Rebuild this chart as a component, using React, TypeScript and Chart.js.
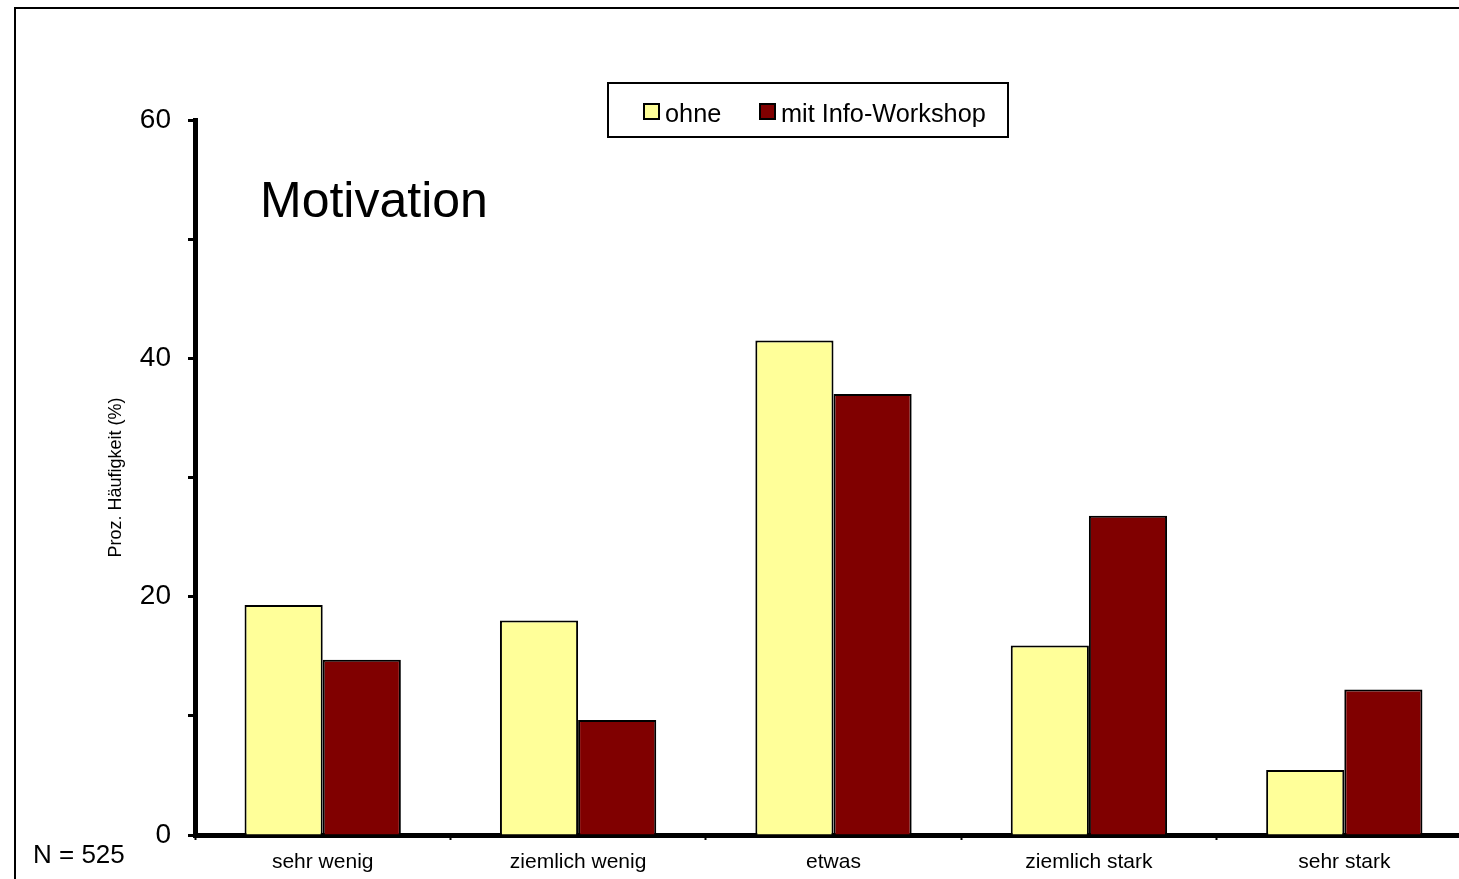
import React, { useEffect, useRef } from "react";
import { Chart, registerables } from "chart.js";

Chart.register(...registerables);

const categories = ["sehr wenig", "ziemlich wenig", "etwas", "ziemlich stark", "sehr stark"];
const ohneValues = [19.3, 18.0, 41.5, 15.9, 5.45];
const mitValues = [14.7, 9.65, 37.0, 26.8, 12.2];
const seriesNames = ["ohne", "mit Info-Workshop"];
const seriesColors = ["#FFFF99", "#800000"];
const chartTitle = "Motivation";
const yAxisTitle = "Proz. Häufigkeit (%)";
const sampleNote = "N = 525";

const FONT = "'Liberation Sans', Arial, Helvetica, sans-serif";

const decorPlugin = {
  id: "decor",
  afterDraw(chart: any) {
    const ctx = chart.ctx;
    ctx.save();
    // outer frame
    ctx.strokeStyle = "#000";
    ctx.lineWidth = 2;
    ctx.beginPath();
    ctx.moveTo(15, 2000);
    ctx.lineTo(15, 8);
    ctx.lineTo(3000, 8);
    ctx.stroke();

    // title
    ctx.fillStyle = "#000";
    ctx.font = `50px ${FONT}`;
    ctx.textAlign = "left";
    ctx.textBaseline = "alphabetic";
    ctx.fillText(chartTitle, 260, 217);

    // N note
    ctx.font = `26px ${FONT}`;
    ctx.fillText(sampleNote, 33, 863);

    // legend
    ctx.lineWidth = 2;
    ctx.strokeRect(608, 83, 400, 54);
    const swatchX = [644, 760];
    const textX = [665, 781];
    ctx.font = `25.3px ${FONT}`;
    for (let i = 0; i < seriesNames.length; i++) {
      ctx.fillStyle = seriesColors[i];
      ctx.fillRect(swatchX[i], 104, 15, 15);
      ctx.strokeStyle = "#000";
      ctx.lineWidth = 2;
      ctx.strokeRect(swatchX[i], 104, 15, 15);
      ctx.fillStyle = "#000";
      ctx.fillText(seriesNames[i], textX[i], 122);
    }
    ctx.restore();
  },
};

export default function App() {
  const canvasRef = useRef<HTMLCanvasElement | null>(null);

  useEffect(() => {
    if (!canvasRef.current) return;
    const chart = new Chart(canvasRef.current, {
      type: "bar",
      data: {
        labels: categories,
        datasets: [
          {
            label: seriesNames[0],
            data: ohneValues,
            backgroundColor: seriesColors[0],
            borderColor: "#000",
            borderWidth: 2,
            categoryPercentage: 0.612,
            barPercentage: 1.0,
          },
          {
            label: seriesNames[1],
            data: mitValues,
            backgroundColor: seriesColors[1],
            borderColor: "#000",
            borderWidth: 2,
            categoryPercentage: 0.612,
            barPercentage: 1.0,
          },
        ],
      },
      options: {
        responsive: false,
        animation: false,
        layout: { padding: { left: 0, right: 8, top: 120, bottom: 0 } },
        plugins: {
          legend: { display: false },
          tooltip: { enabled: false },
        },
        scales: {
          x: {
            grid: {
              display: true,
              drawOnChartArea: false,
              drawTicks: true,
              offset: true,
              tickLength: 5,
              tickWidth: 2,
              tickColor: "#000",
            },
            border: { display: true, color: "#000", width: 5 },
            ticks: {
              color: "#000",
              font: { family: FONT, size: 21 },
              padding: 10,
              maxRotation: 0,
              autoSkip: false,
            },
            afterFit(scale: any) {
              scale.height = 44;
            },
          },
          y: {
            min: 0,
            max: 60,
            grid: {
              display: true,
              drawOnChartArea: false,
              drawTicks: true,
              tickLength: 7,
              tickWidth: 3,
              tickColor: "#000",
            },
            border: { display: true, color: "#000", width: 5 },
            ticks: {
              stepSize: 10,
              color: "#000",
              font: { family: FONT, size: 28 },
              padding: 17,
              callback: (v: any) => (Number(v) % 20 === 0 ? String(v) : ""),
            },
            title: {
              display: true,
              text: yAxisTitle,
              color: "#000",
              font: { family: FONT, size: 18 },
              padding: { top: 105, bottom: 0 },
            },
            afterFit(scale: any) {
              scale.width = 195;
            },
          },
        },
      },
      plugins: [decorPlugin],
    });
    return () => chart.destroy();
  }, []);

  return (
    <div
      style={{
        position: "fixed",
        left: 0,
        top: 0,
        width: 1459,
        height: 879,
        overflow: "hidden",
        background: "#fff",
      }}
    >
      <canvas ref={canvasRef} width={1480} height={879} style={{ display: "block" }} />
    </div>
  );
}
